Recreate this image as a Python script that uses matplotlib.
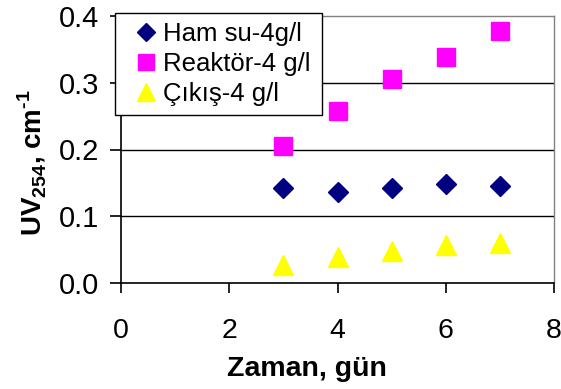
import matplotlib
matplotlib.use("Agg")
import matplotlib.pyplot as plt

plt.rcParams['font.family'] = ['Liberation Sans', 'DejaVu Sans']
plt.rcParams['mathtext.fontset'] = 'custom'
plt.rcParams['mathtext.rm'] = 'Liberation Sans:bold'
plt.rcParams['mathtext.bf'] = 'Liberation Sans:bold'

# Measurement days and UV254 absorbance (cm^-1)
days = [3, 4, 5, 6, 7]
ham_su = [0.143, 0.137, 0.142, 0.148, 0.145]
reaktor = [0.205, 0.257, 0.305, 0.339, 0.378]
cikis = [0.027, 0.039, 0.048, 0.057, 0.060]

series_labels = ["Ham su-4g/l", "Reaktör-4 g/l", "Çıkış-4 g/l"]
x_ticks = [0, 2, 4, 6, 8]
y_ticks = [0.0, 0.1, 0.2, 0.3, 0.4]

W, H = 561, 389
fig = plt.figure(figsize=(W / 100, H / 100), dpi=100)
ax = fig.add_axes([121 / W, 1 - 283 / H, (554 - 121) / W, (283 - 16) / H])

ax.plot(days, ham_su, linestyle='none', marker='D', ms=10.5,
        color='#000080', mec='#000080', label=series_labels[0], zorder=3)
ax.plot(days, reaktor, linestyle='none', marker='s', ms=13.5,
        color='#FF00FF', mec='#FF00FF', label=series_labels[1], zorder=3)
ax.plot(days, cikis, linestyle='none', marker='^', ms=15,
        color='#FFFF00', mec='#FFFF00', label=series_labels[2], zorder=3)

ax.set_xlim(0, 8)
ax.set_ylim(0, 0.4)
ax.set_xticks(x_ticks)
ax.set_yticks(y_ticks)
ax.set_xticklabels([str(v) for v in x_ticks])
ax.set_yticklabels([f"{v:.1f}" for v in y_ticks])

# horizontal gridlines only
for yv in y_ticks[1:-1]:
    ax.axhline(yv, color='black', lw=1.0, zorder=1)

for side in ('left', 'bottom'):
    ax.spines[side].set_color('black')
    ax.spines[side].set_linewidth(1.2)
for side in ('top', 'right'):
    ax.spines[side].set_color('#808080')
    ax.spines[side].set_linewidth(1.0)

ax.tick_params(axis='x', direction='out', length=7, width=1.2,
               pad=18, labelsize=20.5, colors='black')
ax.tick_params(axis='y', direction='out', length=8, width=1.2,
               pad=8, labelsize=21, colors='black')

fig.text(307 / W, 1 - 369 / H, "Zaman, gün", ha='center', va='center',
         fontsize=20.5, fontweight='bold')
fig.text(32 / W, 1 - 163 / H, r"UV$_{\mathbf{254}}$, cm$^{\text{-}\mathbf{1}}$",
         ha='center', va='center', rotation=90, fontsize=20, fontweight='bold')

# legend box placed in figure pixel coordinates
lx0, lx1, ly0, ly1 = 115, 322, 13, 117
leg = ax.legend(loc='upper left', mode='expand',
                bbox_to_anchor=(lx0 / W, 1 - ly1 / H, (lx1 - lx0) / W, (ly1 - ly0) / H),
                bbox_transform=fig.transFigure, borderaxespad=0,
                fontsize=18.5, frameon=True, fancybox=False, shadow=False,
                borderpad=0.36, handlelength=1.7, handletextpad=-0.2,
                labelspacing=0.22, markerscale=0.85, numpoints=1)
leg.get_frame().set_edgecolor('black')
leg.get_frame().set_linewidth(1.0)
leg.get_frame().set_alpha(1)

fig.savefig("out.png", dpi=100)
